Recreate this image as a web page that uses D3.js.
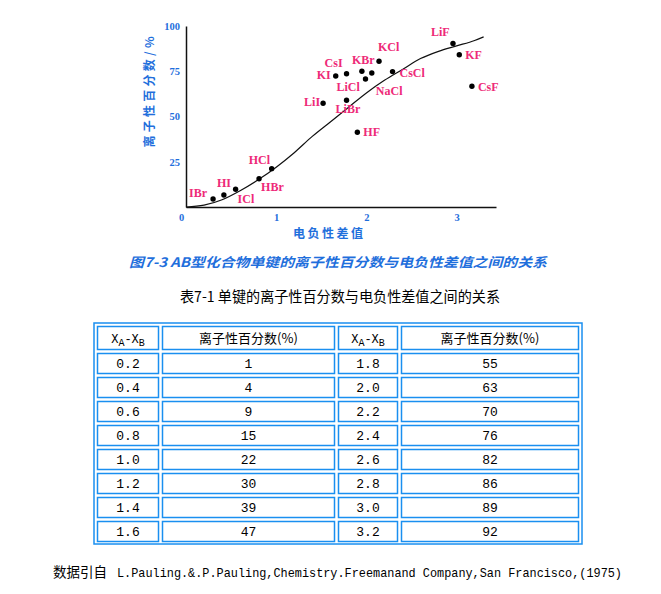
<!DOCTYPE html>
<html><head><meta charset="utf-8">
<script src="https://cdn.jsdelivr.net/npm/d3@7"></script>
<style>body{margin:0;background:#fff}svg{display:block}</style>
</head><body>
<script>
// ---- data ----
const compounds = ["IBr","HI","ICl","HBr","HCl","LiI","KI","CsI","LiBr","HF","KBr","LiCl","NaCl","KCl","CsCl","LiF","KF","CsF"];
const compoundDx = [0.30,0.42,0.55,0.81,0.95,1.52,1.66,1.78,1.78,1.90,1.95,1.99,2.06,2.14,2.29,2.96,3.03,3.17];
const compoundPct = [4.4,6.6,9.8,15.6,21.2,57.3,72.4,73.6,59.0,41.3,75.0,70.7,74.0,80.5,74.8,90.4,84.1,66.7];
const tableDx = ["0.2","0.4","0.6","0.8","1.0","1.2","1.4","1.6","1.8","2.0","2.2","2.4","2.6","2.8","3.0","3.2"];
const tablePct = [1,4,9,15,22,30,39,47,55,63,70,76,82,86,89,92];
const curveStart = [0,0];
const curveEnd = [3.3,94];
const xTicks = [0,1,2,3];
const yTicks = [25,50,75,100];
const tableHeaders = ["XAB","离子性百分数(%)","XAB","离子性百分数(%)"];

// ---- layout / style ----
const W=661,H=594;
const pink="#ee2a78", blue="#1f6fdc", tblBlue="#1a8ff0";
const labelOffset = {IBr:[-24,-2.5],HI:[-7,-8],ICl:[2,14],HBr:[2,12],HCl:[-23,-5],LiI:[-19,3],KI:[-19,3.5],CsI:[-22,-7],LiBr:[-11,13],HF:[6,4],KBr:[-10,-7],LiCl:[-29,11.5],NaCl:[4,21.5],KCl:[-1,-10],CsCl:[7,5],LiF:[-22,-7],KF:[6,4],CsF:[6,5]};

const svg=d3.select("body").append("svg").attr("width",W).attr("height",H);
svg.append("rect").attr("width",W).attr("height",H).attr("fill","#fff");

const x=d3.scaleLinear().domain([0,3.437]).range([186,496]);
const y=d3.scaleLinear().domain([0,100]).range([207,26]);

const serif="'Liberation Serif','Times New Roman',serif";
const cjk="'Noto Sans CJK SC','Noto Sans',sans-serif";
const mono="'Liberation Mono','DejaVu Sans Mono','Noto Sans CJK SC',monospace";

// axes
const gx=svg.append("g").attr("transform","translate(0,207)")
  .call(d3.axisBottom(x).tickValues(xTicks).tickSize(0).tickPadding(7).tickFormat(d3.format("d")));
const gy=svg.append("g").attr("transform","translate(186,0)")
  .call(d3.axisLeft(y).tickValues(yTicks).tickSize(0).tickPadding(6).tickFormat(d3.format("d")));
[gx,gy].forEach(g=>{
  g.select(".domain").attr("stroke","#111").attr("stroke-width",1.5);
  g.selectAll("text").attr("fill",blue).attr("font-family",serif).attr("font-weight","bold").attr("font-size",10.5);
});
gx.selectAll(".tick").filter(d=>d===0).select("text").attr("dx",-5);

// curve
const curvePts=[curveStart].concat(tableDx.map((d,i)=>[+d,tablePct[i]])).concat([curveEnd]);
svg.append("path").datum(curvePts)
  .attr("d",d3.line().x(d=>x(d[0])).y(d=>y(d[1])).curve(d3.curveMonotoneX))
  .attr("fill","none").attr("stroke","#111").attr("stroke-width",1.2);

// points and labels
const pts=compounds.map((n,i)=>({n,dx:compoundDx[i],p:compoundPct[i]}));
svg.append("g").selectAll("circle").data(pts).join("circle")
  .attr("cx",d=>x(d.dx)).attr("cy",d=>y(d.p)).attr("r",2.7).attr("fill","#000");
svg.append("g").selectAll("text").data(pts).join("text")
  .attr("x",d=>x(d.dx)+labelOffset[d.n][0]).attr("y",d=>y(d.p)+labelOffset[d.n][1])
  .attr("fill",pink).attr("font-family",serif).attr("font-weight","bold").attr("font-size",12)
  .text(d=>d.n);

// axis titles
svg.append("text").attr("transform","translate(154,92) rotate(-90)")
  .attr("text-anchor","middle").attr("fill",blue).attr("font-family",cjk).attr("font-weight","bold")
  .attr("font-size",12).attr("textLength",111).attr("lengthAdjust","spacing").text("离子性百分数/%");
svg.append("text").attr("x",328).attr("y",238).attr("text-anchor","middle").attr("fill",blue)
  .attr("font-family",cjk).attr("font-weight","bold").attr("font-size",12)
  .attr("textLength",70).attr("lengthAdjust","spacing").text("电负性差值");

// figure caption
svg.append("text").attr("x",129).attr("y",267).attr("fill",blue).attr("font-family",cjk)
  .attr("font-weight","bold").attr("font-size",13).attr("font-style","italic")
  .attr("textLength",418).attr("lengthAdjust","spacingAndGlyphs")
  .text("图7-3 AB型化合物单键的离子性百分数与电负性差值之间的关系");

// table title
svg.append("text").attr("x",180).attr("y",302).attr("fill","#000").attr("font-family",cjk)
  .attr("font-size",14.5).attr("textLength",320).attr("lengthAdjust","spacingAndGlyphs")
  .text("表7-1 单键的离子性百分数与电负性差值之间的关系");

// table
const colL=[97,162,338,401], colR=[159,335,398,579];
svg.append("rect").attr("x",94).attr("y",323).attr("width",488).attr("height",221)
  .attr("fill","none").attr("stroke",tblBlue).attr("stroke-width",1.5);
const rowTop=i=>i<0?326:353+24*i;
const rowH=i=>i<0?24:21;
const cells=[];
tableHeaders.forEach((h,c)=>cells.push({r:-1,c,t:h}));
for(let i=0;i<8;i++){
  cells.push({r:i,c:0,t:tableDx[i]});
  cells.push({r:i,c:1,t:String(tablePct[i])});
  cells.push({r:i,c:2,t:tableDx[i+8]});
  cells.push({r:i,c:3,t:String(tablePct[i+8])});
}
svg.append("g").selectAll("rect").data(cells).join("rect")
  .attr("x",d=>colL[d.c]+0.5).attr("y",d=>rowTop(d.r)+0.5)
  .attr("width",d=>colR[d.c]-colL[d.c]-1).attr("height",d=>rowH(d.r)-1)
  .attr("fill","none").attr("stroke",tblBlue).attr("stroke-width",1.5);
const tg=svg.append("g");
cells.forEach(d=>{
  const cx=(colL[d.c]+colR[d.c])/2, cy=rowTop(d.r)+rowH(d.r)/2+4.5;
  const t=tg.append("text").attr("x",cx).attr("y",cy).attr("text-anchor","middle")
    .attr("fill","#000").attr("font-size",13);
  if(d.t==="XAB"){
    t.attr("font-family",mono).attr("font-size",12);
    t.append("tspan").text("X");
    t.append("tspan").attr("font-size",10).attr("dy",3).text("A");
    t.append("tspan").attr("dy",-3).text("-X");
    t.append("tspan").attr("font-size",10).attr("dy",3).text("B");
  } else if(d.r<0){
    t.attr("font-family",cjk).text(d.t);
  } else {
    t.attr("font-family",mono).text(d.t);
  }
});

// footer
svg.append("text").attr("x",53).attr("y",577).attr("fill","#000").attr("font-family",cjk)
  .attr("font-size",13.5).text("数据引自");
svg.append("text").attr("x",117).attr("y",577).attr("fill","#000").attr("font-family",mono)
  .attr("font-size",12.8).attr("textLength",505).attr("lengthAdjust","spacingAndGlyphs")
  .text("L.Pauling.&.P.Pauling,Chemistry.Freemanand Company,San Francisco,(1975)");
</script>
</body></html>
